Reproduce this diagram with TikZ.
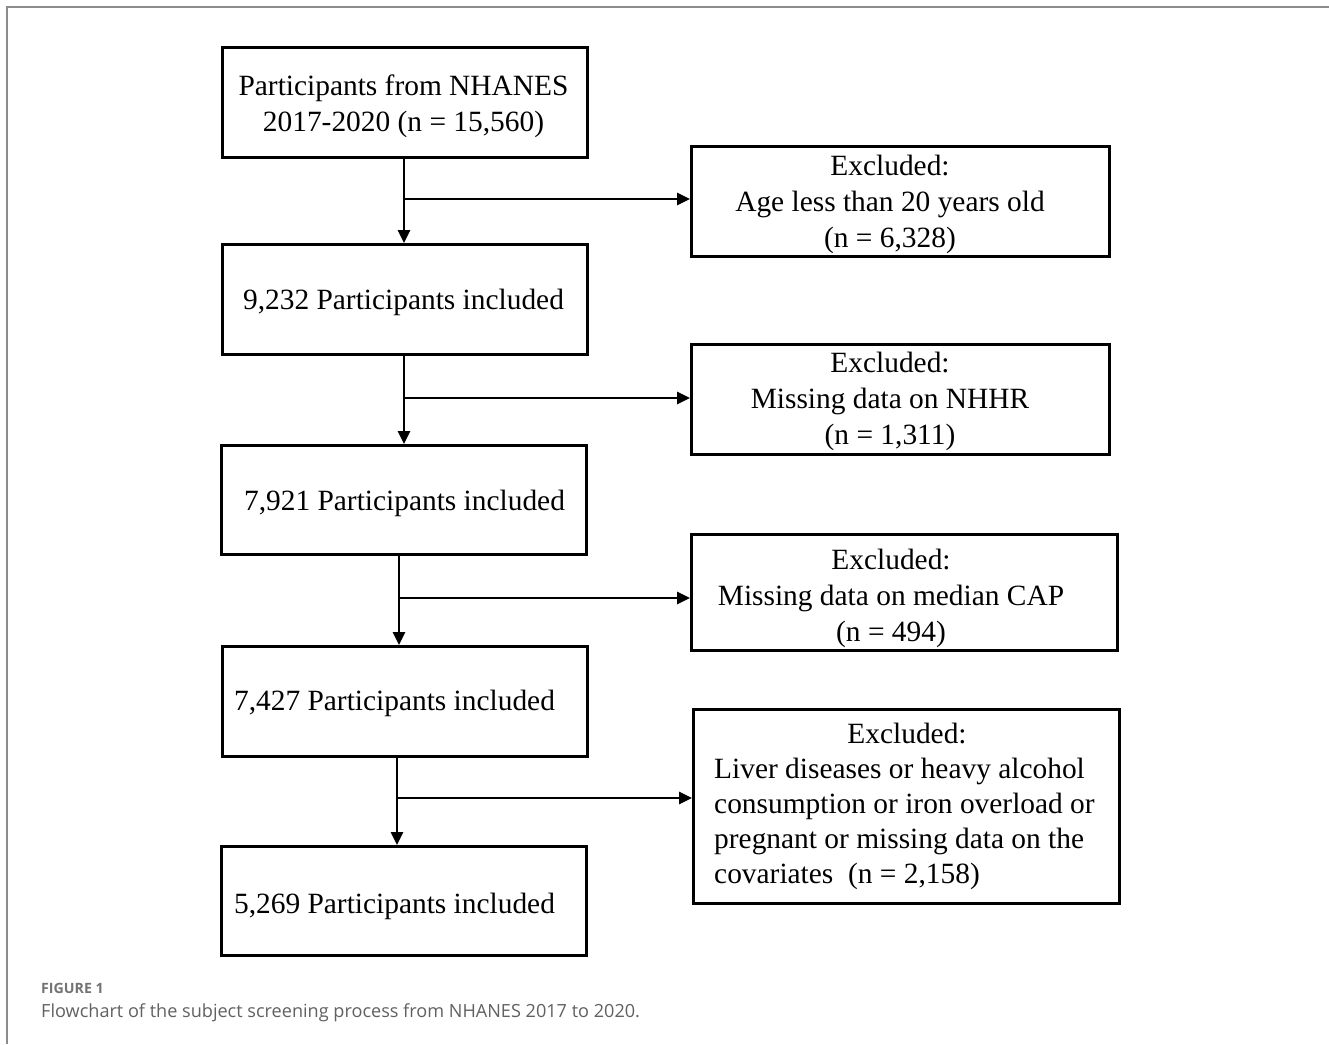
\documentclass[tikz,border=0pt]{standalone}
\usepackage{fontspec}
\setmainfont{Liberation Serif}
\newfontfamily\capfont{Open Sans}
\usetikzlibrary{arrows.meta}
\begin{document}
\begin{tikzpicture}[x=1pt,y=-1pt,
  boxnode/.style={draw=black,line width=2.8pt,inner sep=0pt,anchor=north west},
  txt/.style={font=\fontsize{29.4}{36}\selectfont,align=center,inner sep=0pt},
  arr/.style={line width=2.8pt,-{Triangle[length=13pt,width=12pt]}},
]
\useasboundingbox (0,0) rectangle (1329,1044);
\fill[white] (0,0) rectangle (1329,1044);
\draw[color=black!45,line width=1.5pt] (7,1044) -- (7,7) -- (1329,7);

% main boxes
\node[boxnode,minimum width=365pt,minimum height=110pt] (b1) at (221,46) {};
\node[boxnode,minimum width=365pt,minimum height=110pt] (b2) at (221,243) {};
\node[boxnode,minimum width=365pt,minimum height=109pt] (b3) at (220,444) {};
\node[boxnode,minimum width=365pt,minimum height=110pt] (b4) at (221,645) {};
\node[boxnode,minimum width=365pt,minimum height=109pt] (b5) at (220,845) {};
% exclusion boxes
\node[boxnode,minimum width=418pt,minimum height=110pt] (e1) at (690,145) {};
\node[boxnode,minimum width=418pt,minimum height=110pt] (e2) at (690,343) {};
\node[boxnode,minimum width=426pt,minimum height=116pt] (e3) at (690,533) {};
\node[boxnode,minimum width=426pt,minimum height=194pt] (e4) at (692,708) {};

% texts
\node[txt] (t1) at (403.5,106) {Participants from NHANES\\2017-2020 (n = 15,560)};
\node[txt] (t2) at (403.5,302) {9,232 Participants included};
\node[txt] (t3) at (404.5,503) {7,921 Participants included};
\node[txt] (t4) at (394.5,703) {7,427 Participants included};
\node[txt] (t5) at (394.5,906) {5,269 Participants included};
\node[txt] (x1) at (890,204) {Excluded:\\Age less than 20 years old\\(n = 6,328)};
\node[txt] (x2) at (890,401) {Excluded:\\Missing data on NHHR\\(n = 1,311)};
\node[txt] (x3) at (891,598) {Excluded:\\Missing data on median CAP\\(n = 494)};
\node[txt] (x4h) at (907,733) {Excluded:};
\node[txt,font=\fontsize{29.4}{35}\selectfont,align=left,anchor=west] (x4) at (714,823.5) {Liver diseases or heavy alcohol\\consumption or iron overload or\\pregnant or missing data on the\\covariates \ (n = 2,158)};

% junctions
\coordinate (j1) at (404,199);
\coordinate (j2) at (404,398);
\coordinate (j3) at (399,598);
\coordinate (j4) at (397,798);

\draw[arr] (j1 |- b1.south) -- (j1 |- b2.north);
\draw[arr] (j1) -- (j1 -| e1.west);
\draw[arr] (j2 |- b2.south) -- (j2 |- b3.north);
\draw[arr] (j2) -- (j2 -| e2.west);
\draw[arr] (j3 |- b3.south) -- (j3 |- b4.north);
\draw[arr] (j3) -- (j3 -| e3.west);
\draw[arr] (j4 |- b4.south) -- (j4 |- b5.north);
\draw[arr] (j4) -- (j4 -| e4.west);

% caption
\node[anchor=west,inner sep=0pt,font=\capfont\bfseries\fontsize{14.2}{16}\selectfont,text=black!55] (fig) at (41,988) {FIGURE 1};
\node[anchor=west,inner sep=0pt,font=\capfont\fontsize{18.1}{20}\selectfont,text=black!62] (cap) at (41,1013) {Flowchart of the subject screening process from NHANES 2017 to 2020.};
\end{tikzpicture}
\end{document}
